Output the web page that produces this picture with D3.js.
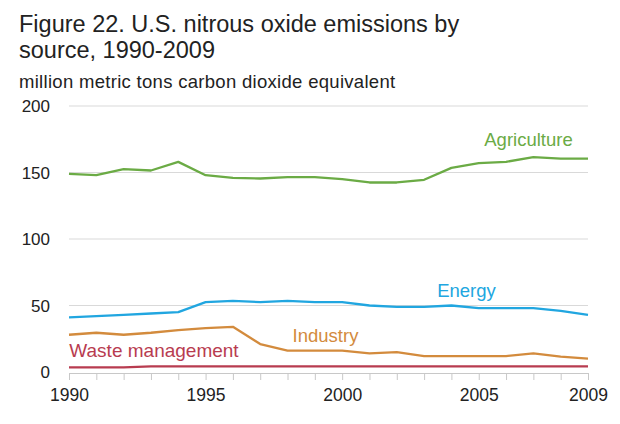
<!DOCTYPE html>
<html><head><meta charset="utf-8">
<script src="https://cdn.jsdelivr.net/npm/d3@7"></script>
<style>body{margin:0;background:#fff}svg{display:block}text{font-family:"Liberation Sans",Arial,sans-serif}</style>
</head><body><svg id="c" width="620" height="424"></svg>
<script>
const years = d3.range(1990, 2010);
const agriculture = [149,148,152.5,151.5,158,148,146,145.5,146.5,146.5,145,142.5,142.5,144.5,153.5,157,158,161.5,160.5,160.5];
const energy = [41,42,43,44,45,52.5,53.5,52.5,53.5,52.5,52.5,50,49,49,50,48,48,48,46,43];
const industry = [28,29.5,28,29.5,31.5,33,34,21,16,16,16,14,15,12,12,12,12,14,11.5,10];
const waste = [3.5,3.5,3.5,4.2,4.2,4.2,4.2,4.2,4.2,4.2,4.2,4.2,4.2,4.2,4.2,4.2,4.2,4.2,4.2,4.2];
const yTicks = [0,50,100,150,200];
const xTickLabels = [1990,1995,2000,2005,2009];
const seriesNames = ["Agriculture","Energy","Industry","Waste management"];
const seriesColors = ["#6bab45","#21a6e0","#d38b3d","#b83c50"];

const svg = d3.select("#c");
const x = d3.scaleLinear().domain([1990,2009]).range([69,588]);
const y = d3.scaleLinear().domain([0,200]).range([372,106]);

svg.append("text").attr("x",19).attr("y",31.5).attr("font-size",23.5).attr("fill","#222").text("Figure 22. U.S. nitrous oxide emissions by");
svg.append("text").attr("x",19).attr("y",57.5).attr("font-size",23.5).attr("fill","#222").text("source, 1990-2009");
svg.append("text").attr("x",19).attr("y",88).attr("font-size",18.5).attr("letter-spacing",0.3).attr("fill","#222").text("million metric tons carbon dioxide equivalent");

// grid
svg.append("g").selectAll("line").data(yTicks.filter(d=>d>0)).join("line")
  .attr("x1",x(1990)).attr("x2",x(2009)).attr("y1",d=>y(d)).attr("y2",d=>y(d))
  .attr("stroke","#d9d9d9").attr("stroke-width",1);
// y labels
svg.append("g").selectAll("text").data(yTicks).join("text")
  .attr("x",50).attr("y",d=>y(d)).attr("dy","0.36em").attr("text-anchor","end")
  .attr("font-size",17).attr("fill","#222").text(d=>d);
// x axis
const xAxis = d3.axisBottom(x).tickValues(years).tickSize(7).tickSizeOuter(0).tickPadding(0)
  .tickFormat(d=>xTickLabels.includes(d)?d:"");
const gx = svg.append("g").attr("transform",`translate(0,${y(0)+1})`).call(xAxis);
gx.select(".domain").attr("stroke","#c8c8c8").attr("stroke-width",1);
gx.selectAll(".tick line").attr("stroke","#c8c8c8");
gx.selectAll(".tick text").attr("font-size",17.5).attr("fill","#222")
  .attr("font-family","Liberation Sans, Arial, sans-serif").attr("y",28).attr("dy",0);

const line = d3.line().x((d,i)=>x(years[i])).y(d=>y(d));
const all = [agriculture, energy, industry, waste];
svg.append("g").selectAll("path").data(all).join("path")
  .attr("d",line).attr("fill","none").attr("stroke",(d,i)=>seriesColors[i]).attr("stroke-width",2.3)
  .attr("stroke-linejoin","round");

const labelPos = [[528.5,146],[466.5,297.3],[325.5,342.3],[154,356.7]];
const labelSize = [18.5,18.5,18.5,19];
svg.append("g").selectAll("text").data(seriesNames).join("text")
  .attr("x",(d,i)=>labelPos[i][0]).attr("y",(d,i)=>labelPos[i][1])
  .attr("text-anchor","middle").attr("font-size",(d,i)=>labelSize[i]).attr("fill",(d,i)=>seriesColors[i]).text(d=>d);
</script></body></html>
